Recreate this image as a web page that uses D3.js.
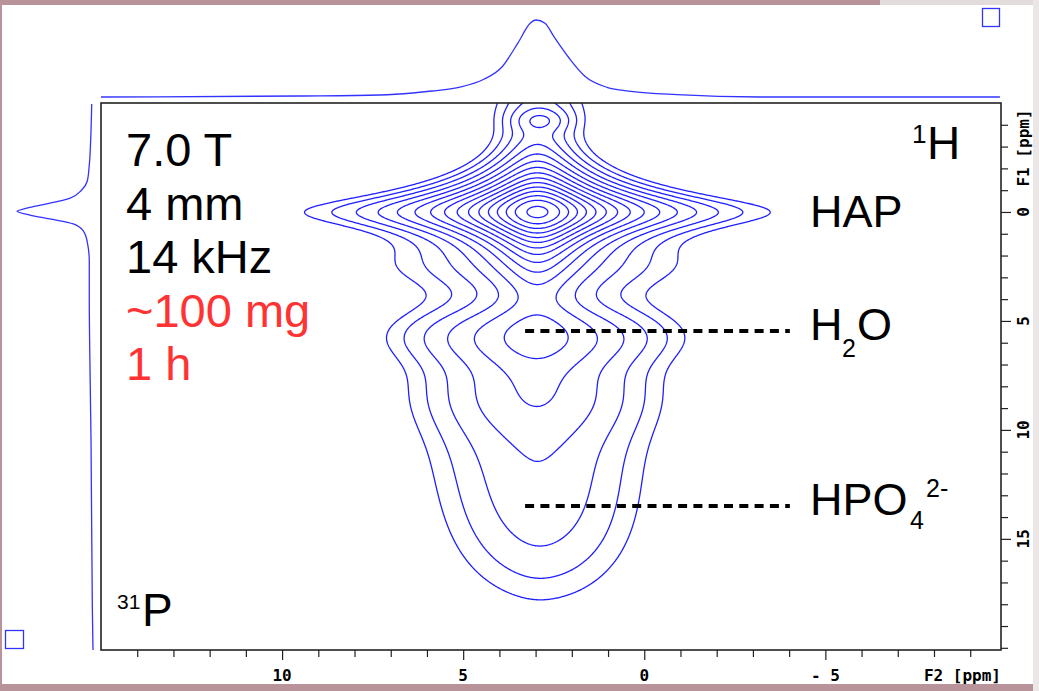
<!DOCTYPE html>
<html>
<head>
<meta charset="utf-8">
<script src="https://cdn.jsdelivr.net/npm/d3@7"></script>
<style>
body { margin: 0; background: #fff; }
svg { display: block; }
</style>
</head>
<body>
<script>
// axis ranges in ppm
var f2Range = [15.0, -9.85];   // 31P, drawn left to right
var f1Range = [-5.0, 20.1];    // 1H, drawn top to bottom
var f2Major = [10, 5, 0, -5];
var f2Labels = ["10", "5", "0", "- 5"];
var f1Major = [0, 5, 10, 15];
var f1Labels = ["0", "5", "10", "15"];

// peaks of the 2D map
var peakNames = ["HAP", "HAP ridge", "HAP lobe", "upper broad", "H2O", "H2O centre", "H2O tail", "broad", "HPO4"];
var peakF2    = [2.95, 2.85, 2.85, 3.0, 3.0, 3.0, 3.0, 3.0, 2.8];
var peakF1    = [0.0, -5.0, -4.2, 2.5, 5.6, 5.6, 8.2, 9.0, 15.3];
var peakAmp   = [44, 1.0, 0.9, 0.9, 1.6, 0.5, 0.7, 1.7, 1.1];
var peakW2    = [0.97, 1.3, 0.5, 4.5, 2.9, 0.9, 2.5, 2.6, 2.3];
var peakW1    = [0.95, 1.3, 0.35, 1.0, 1.0, 1.2, 1.4, 4.0, 3.2];
var peakP2    = [1, 0, 0, 0, 0, 0, 0, 0, 0];   // lorentz-type exponent, 0 = gaussian
var peakP1    = [1.2, 0, 0, 0, 0, 0, 0, 0, 0];

// contour levels (base level 1, factor ~1.28)
var levels = [1.00, 1.28, 1.64, 2.10, 2.68, 3.44, 4.40, 5.63, 7.21, 9.22,
              11.8, 15.1, 19.3, 24.8, 31.7, 40.6];

// external projections [ppm, relative height]
var topProj = [[15.0, 0], [9.51, 0.013], [7.30, 0.026], [6.39, 0.052], [5.86, 0.078],
  [5.12, 0.126], [4.43, 0.23], [3.93, 0.39], [3.49, 0.70], [3.15, 0.957], [2.99, 1.0],
  [2.74, 0.957], [2.49, 0.78], [2.05, 0.49], [1.64, 0.27], [1.03, 0.126], [0.37, 0.074],
  [-0.90, 0.03], [-3.20, 0], [-9.82, 0]];
var leftProj = [[-4.95, 0.017], [-3.35, 0.03], [-2.15, 0.049], [-1.42, 0.075], [-1.01, 0.149],
  [-0.64, 0.30], [-0.37, 0.61], [-0.18, 0.87], [-0.03, 1.0], [0.14, 0.83], [0.32, 0.57],
  [0.55, 0.26], [0.86, 0.13], [1.38, 0.075], [2.25, 0.049], [4.02, 0.049], [7.02, 0.04],
  [10.51, 0.026], [18.08, 0.009], [20.1, 0]];

// dashed markers
var markF1 = [5.46, 13.49];
var markF2 = [3.29, -4.02];

var W = 1039, H = 691;
var svg = d3.select("body").append("svg").attr("width", W).attr("height", H);

// slide background
svg.append("rect").attr("width", W).attr("height", H).style("fill", "#b8949a");
svg.append("rect").attr("x", 880).attr("y", 0).attr("width", 159).attr("height", 6).style("fill", "#e2dcdc");
svg.append("rect").attr("x", 1033).attr("y", 0).attr("width", 6).attr("height", H).style("fill", "#ebe7e7");
svg.append("rect").attr("x", 2).attr("y", 5).attr("width", 1031).attr("height", 679).style("fill", "#fff");

var x = d3.scaleLinear().domain(f2Range).range([101, 1001]);
var y = d3.scaleLinear().domain(f1Range).range([103, 650]);

// build intensity grid
var nx = 900, ny = 720;
var g2 = [15.8, -10.6], g1 = [-6.2, 21.2];
var s2 = (g2[1] - g2[0]) / (nx - 1), s1 = (g1[1] - g1[0]) / (ny - 1);
function shape(d, w, p) {
  var r = d / w;
  return p > 0 ? Math.pow(1 + r * r, -p) : Math.exp(-0.5 * r * r);
}
var values = new Float64Array(nx * ny);
for (var j = 0; j < ny; j++) {
  var v1 = g1[0] + j * s1;
  for (var i = 0; i < nx; i++) {
    var v2 = g2[0] + i * s2, s = 0;
    for (var k = 0; k < peakAmp.length; k++) {
      s += peakAmp[k] * shape(v2 - peakF2[k], peakW2[k], peakP2[k]) *
                        shape(v1 - peakF1[k], peakW1[k], peakP1[k]);
    }
    values[j * nx + i] = s;
  }
}

var contours = d3.contours().size([nx, ny]).thresholds(levels)(values);
var proj = d3.geoTransform({
  point: function(gx, gy) {
    this.stream.point(x(g2[0] + (gx - 0.5) * s2), y(g1[0] + (gy - 0.5) * s1));
  }
});
var path = d3.geoPath(proj);

svg.append("clipPath").attr("id", "box")
  .append("rect").attr("x", 101).attr("y", 103).attr("width", 900).attr("height", 547);

svg.append("g").attr("clip-path", "url(#box)")
  .selectAll("path").data(contours).enter().append("path")
  .attr("d", path)
  .style("fill", "none")
  .style("stroke", "#2020ff")
  .style("stroke-width", 1.3);

// frame
svg.append("rect").attr("x", 101).attr("y", 103).attr("width", 900).attr("height", 547)
  .style("fill", "none").style("stroke", "#222").style("stroke-width", 1.6);

var axisFont = "DejaVu Sans Mono";

// bottom axis
var minor2 = d3.range(-9, 15);
var bx = svg.append("g").attr("transform", "translate(0,650)")
  .call(d3.axisBottom(x).tickValues(minor2).tickSizeOuter(0).tickSize(7)
        .tickFormat(function() { return ""; }));
bx.select(".domain").remove();
bx.selectAll(".tick line").filter(function(d) { return f2Major.indexOf(d) >= 0; }).attr("y2", 10);
bx.selectAll(".tick line").style("stroke", "#222").style("stroke-width", 1.2);
svg.selectAll(".f2lab").data(f2Major).enter().append("text")
  .attr("x", function(d) { return x(d); }).attr("y", 681)
  .attr("text-anchor", "middle")
  .style("font-family", axisFont).style("font-weight", "bold").style("font-size", "16px")
  .text(function(d, i) { return f2Labels[i]; });
svg.append("text").attr("x", 1001).attr("y", 681).attr("text-anchor", "end")
  .style("font-family", axisFont).style("font-weight", "bold").style("font-size", "16px")
  .text("F2 [ppm]");

// right axis
var minor1 = d3.range(-4, 21);
var ry = svg.append("g").attr("transform", "translate(1001,0)")
  .call(d3.axisRight(y).tickValues(minor1).tickSizeOuter(0).tickSize(7)
        .tickFormat(function() { return ""; }));
ry.select(".domain").remove();
ry.selectAll(".tick line").filter(function(d) { return f1Major.indexOf(d) >= 0; }).attr("x2", 10);
ry.selectAll(".tick line").style("stroke", "#222").style("stroke-width", 1.2);
svg.selectAll(".f1lab").data(f1Major).enter().append("text")
  .attr("transform", function(d) { return "translate(1029," + y(d) + ") rotate(-90)"; })
  .attr("text-anchor", "middle")
  .style("font-family", axisFont).style("font-weight", "bold").style("font-size", "16px")
  .text(function(d, i) { return f1Labels[i]; });
svg.append("text").attr("transform", "translate(1029,148) rotate(-90)")
  .attr("text-anchor", "middle")
  .style("font-family", axisFont).style("font-weight", "bold").style("font-size", "16px")
  .text("F1 [ppm]");

// projections
var yTop = d3.scaleLinear().domain([0, 1]).range([97, 20]);
var xLeft = d3.scaleLinear().domain([0, 1]).range([93, 17]);
svg.append("path").datum(topProj)
  .attr("d", d3.line().x(function(d) { return x(d[0]); }).y(function(d) { return yTop(d[1]); })
         .curve(d3.curveMonotoneX))
  .style("fill", "none").style("stroke", "#3333ff").style("stroke-width", 1.3);
svg.append("path").datum(leftProj)
  .attr("d", d3.line().x(function(d) { return xLeft(d[1]); }).y(function(d) { return y(d[0]); })
         .curve(d3.curveMonotoneY))
  .style("fill", "none").style("stroke", "#3333ff").style("stroke-width", 1.3);

// little boxes
svg.append("rect").attr("x", 982.5).attr("y", 8.5).attr("width", 17).attr("height", 18)
  .style("fill", "none").style("stroke", "#3333ff").style("stroke-width", 1.3);
svg.append("rect").attr("x", 5.5).attr("y", 630.5).attr("width", 18).attr("height", 18)
  .style("fill", "none").style("stroke", "#3333ff").style("stroke-width", 1.3);

// dashed markers
svg.selectAll(".mark").data(markF1).enter().append("line")
  .attr("x1", x(markF2[0])).attr("x2", x(markF2[1]))
  .attr("y1", function(d) { return y(d); }).attr("y2", function(d) { return y(d); })
  .style("stroke", "#000").style("stroke-width", 4).style("stroke-dasharray", "9,6.3");

// labels
function label(tx, ty, str, size, col) {
  return svg.append("text").attr("x", tx).attr("y", ty)
    .style("font-family", "Liberation Sans, Arial, sans-serif")
    .style("font-size", size).style("fill", col || "#000").text(str);
}
label(126, 166, "7.0 T", "47px");
label(126, 220, "4 mm", "47px");
label(126, 273, "14 kHz", "47px");
label(126, 327, "~100 mg", "47px", "#ff3333");
label(126, 380, "1 h", "47px", "#ff3333");

label(912, 143, "1", "26px");
label(927, 159, "H", "46px");
label(810, 227, "HAP", "45px");
label(810, 340, "H", "45px");
label(842, 357, "2", "25px");
label(857, 340, "O", "45px");
label(810, 515, "HPO", "45px");
label(910, 529, "4", "25px");
label(926, 497, "2-", "25px");
label(117, 609, "31", "21px");
label(142, 626, "P", "46px");
</script>
</body>
</html>
